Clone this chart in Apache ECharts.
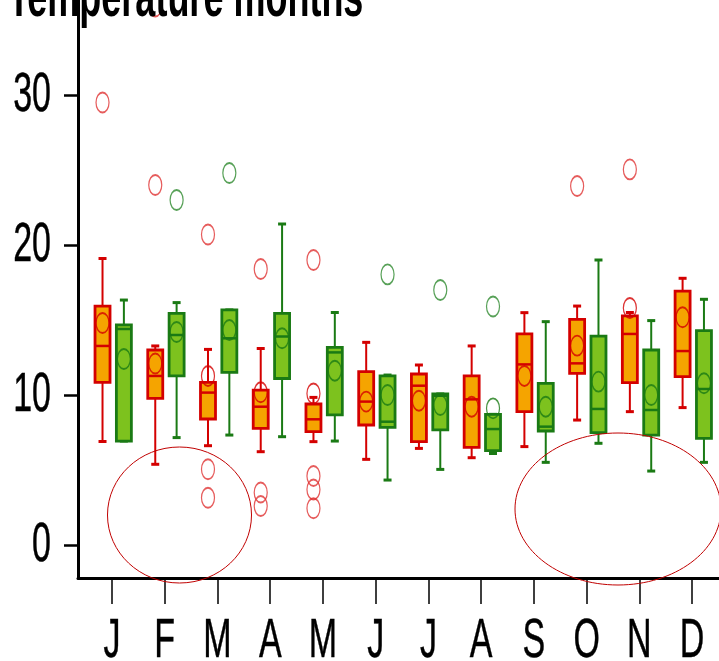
<!DOCTYPE html>
<html>
<head>
<meta charset="utf-8">
<script src="https://cdn.jsdelivr.net/npm/echarts@6/dist/echarts.min.js"></script>
<style>
  html, body { margin: 0; padding: 0; background: #fff; }
  #chart { width: 719px; height: 661px; }
</style>
</head>
<body>
<div id="chart"></div>
<script>
// month letters on the x axis
const months = ["J", "F", "M", "A", "M", "J", "J", "A", "S", "O", "N", "D"];
const yTicks = [0, 10, 20, 30];
const titleText = "Temperature months";

// [low whisker, q1, median, q3, high whisker] per month
const orangeBoxes = [
  [6.9, 10.84, 13.27, 15.93, 19.1],
  [5.38, 9.78, 11.27, 13.0, 13.27],
  [6.62, 8.4, 10.16, 10.84, 13.04],
  [6.22, 7.78, 9.22, 10.33, 13.1],
  [6.89, 7.56, 8.38, 9.4, 9.84],
  [5.71, 8.0, 9.56, 11.56, 13.51],
  [6.44, 6.89, 10.62, 11.4, 12.0],
  [5.82, 6.51, 9.71, 11.27, 13.27],
  [6.56, 8.89, 12.04, 14.07, 15.49],
  [8.33, 11.44, 12.11, 15.04, 15.93],
  [8.89, 10.82, 14.07, 15.27, 15.5],
  [9.16, 11.22, 12.93, 16.93, 17.78],
];
const orangeMeans = [14.8, 12.1, 11.27, 10.18, 10.1, 9.56, 9.62, 9.22, 11.27, 13.29, 15.8, 15.18];
// [month number, value]
const orangeOutliers = [
  [1, 29.5], [2, 24.0], [2, 35.9], [3, 20.7], [3, 5.05], [3, 3.15],
  [4, 18.4], [4, 3.5], [4, 2.6], [5, 19.0], [5, 4.6], [5, 3.7], [5, 2.45],
  [10, 23.93], [11, 25.04],
];

const greenBoxes = [
  [6.93, 6.93, 14.4, 14.67, 16.33],
  [7.16, 11.27, 14.0, 15.44, 16.16],
  [7.33, 11.51, 13.78, 15.67, 15.67],
  [7.22, 11.1, 13.9, 15.44, 21.4],
  [6.93, 8.67, 12.84, 13.18, 15.5],
  [4.33, 7.84, 8.22, 11.27, 11.33],
  [5.04, 7.67, 9.95, 10.07, 10.07],
  [6.1, 6.29, 7.73, 8.71, 8.71],
  [5.51, 7.6, 7.89, 10.78, 14.89],
  [6.78, 7.49, 9.07, 13.93, 19.0],
  [4.93, 7.33, 9.0, 13.0, 14.96],
  [5.51, 7.11, 10.4, 14.29, 16.38],
];
const greenMeans = [12.4, 14.2, 14.33, 13.78, 11.62, 10.0, 9.33, 9.11, 9.22, 10.89, 10.0, 10.78];
const greenOutliers = [[2, 23.0], [3, 24.8], [6, 18.04], [7, 17.0], [8, 15.9]];

const orangeOffset = -0.18;
const greenOffset = 0.225;
const yMin = -2.2;
const xMin = 0.355;
const ellipseSymbol = "path://M0,10A6.5,10,0,1,1,13,10A6.5,10,0,1,1,0,10Z";
const labelFont = "'Liberation Sans', Arial, sans-serif";
// the picture is stretched vertically, so the text is too
const stretch = 1.62;

function boxRenderer(offset, fill, stroke) {
  return function (params, api) {
    const m = api.value(0) + offset;
    const low = api.coord([m, api.value(1)]);
    const q1 = api.coord([m, api.value(2)]);
    const med = api.coord([m, api.value(3)]);
    const q3 = api.coord([m, api.value(4)]);
    const high = api.coord([m, api.value(5)]);
    const x = low[0];
    const hw = 7.5;
    const cap = 4;
    return {
      type: "group",
      children: [
        { type: "line", shape: { x1: x, y1: high[1], x2: x, y2: q3[1] }, style: { stroke: stroke, lineWidth: 2 } },
        { type: "line", shape: { x1: x, y1: q1[1], x2: x, y2: low[1] }, style: { stroke: stroke, lineWidth: 2 } },
        { type: "line", shape: { x1: x - cap, y1: high[1], x2: x + cap, y2: high[1] }, style: { stroke: stroke, lineWidth: 3 } },
        { type: "line", shape: { x1: x - cap, y1: low[1], x2: x + cap, y2: low[1] }, style: { stroke: stroke, lineWidth: 3 } },
        {
          type: "rect",
          shape: { x: x - hw, y: q3[1], width: hw * 2, height: q1[1] - q3[1] },
          style: { fill: fill, stroke: stroke, lineWidth: 2.8 },
        },
        { type: "line", shape: { x1: x - hw, y1: med[1], x2: x + hw, y2: med[1] }, style: { stroke: stroke, lineWidth: 2.5 } },
      ],
    };
  };
}

function boxData(boxes) {
  return boxes.map((b, i) => [i + 1].concat(b));
}

function pointData(points, offset) {
  return points.map((p) => [p[0] + offset, p[1]]);
}

function circleSeries(data, color, z) {
  return {
    type: "scatter",
    data: data,
    symbol: ellipseSymbol,
    symbolSize: [13, 20],
    silent: true,
    z: z,
    itemStyle: { color: "transparent", borderColor: color, borderWidth: 1.5 },
  };
}

function stretchedText(id, text, x, y, align, size, weight) {
  return {
    type: "text",
    id: id,
    x: x,
    y: y,
    scaleY: stretch,
    z: 20,
    style: {
      text: text,
      fontSize: size,
      fontWeight: weight || "normal",
      fontFamily: labelFont,
      fill: "#000",
      stroke: "#000",
      lineWidth: weight ? 0 : 0.3,
      align: align,
      verticalAlign: "middle",
    },
  };
}

const chart = echarts.init(document.getElementById("chart"));

chart.setOption({
  animation: false,
  grid: { left: 78, right: -10, top: -10, bottom: 83, outerBoundsMode: "none" },
  xAxis: {
    type: "value",
    min: xMin,
    max: 12.7,
    splitLine: { show: false },
    axisLine: { onZero: false, lineStyle: { color: "#000", width: 3 } },
    axisTick: { customValues: months.map((m, i) => i + 1), length: 26, lineStyle: { color: "#000", width: 1.5 } },
    axisLabel: { show: false },
  },
  yAxis: {
    type: "value",
    min: yMin,
    max: 37,
    splitLine: { show: false },
    axisLine: { show: true, onZero: false, lineStyle: { color: "#000", width: 3 } },
    axisTick: { show: true, customValues: yTicks, length: 14, lineStyle: { color: "#000", width: 2.5 } },
    axisLabel: { show: false },
  },
  series: [
    {
      type: "custom",
      renderItem: boxRenderer(orangeOffset, "#f5a400", "#d40000"),
      data: boxData(orangeBoxes),
      encode: { x: 0, y: [1, 2, 3, 4, 5] },
      silent: true,
      z: 2,
    },
    {
      type: "custom",
      renderItem: boxRenderer(greenOffset, "#7dc21e", "#1a7a14"),
      data: boxData(greenBoxes),
      encode: { x: 0, y: [1, 2, 3, 4, 5] },
      silent: true,
      z: 2,
    },
    circleSeries(pointData(orangeMeans.map((v, i) => [i + 1, v]), orangeOffset), "#d40000", 3),
    circleSeries(pointData(greenMeans.map((v, i) => [i + 1, v]), greenOffset), "#1a7a14", 3),
    circleSeries(pointData(orangeOutliers, orangeOffset), "#e03333", 3),
    circleSeries(pointData(greenOutliers, greenOffset), "#2e8a2e", 3),
  ],
});

// tick labels and title, placed through the axes' own scales
const labels = [];
months.forEach((m, i) => {
  const p = chart.convertToPixel({ gridIndex: 0 }, [i + 1, yMin]);
  labels.push(stretchedText("x" + i, m, p[0], p[1] + 64, "center", 34));
});
yTicks.forEach((t, i) => {
  const p = chart.convertToPixel({ gridIndex: 0 }, [xMin, t]);
  labels.push(stretchedText("y" + i, String(t), p[0] - 27, p[1] + 1, "right", 34));
});
labels.push(stretchedText("title", titleText, 8, 0, "left", 36, "bold"));

chart.setOption({
  graphic: labels.concat([
    {
      type: "ellipse",
      id: "ring1",
      shape: { cx: 179.5, cy: 515, rx: 72, ry: 68 },
      style: { fill: "none", stroke: "#c00000", lineWidth: 1 },
      z: 10,
    },
    {
      type: "ellipse",
      id: "ring2",
      shape: { cx: 618, cy: 509, rx: 103, ry: 76 },
      style: { fill: "none", stroke: "#c00000", lineWidth: 1 },
      z: 10,
    },
  ]),
});
</script>
</body>
</html>
